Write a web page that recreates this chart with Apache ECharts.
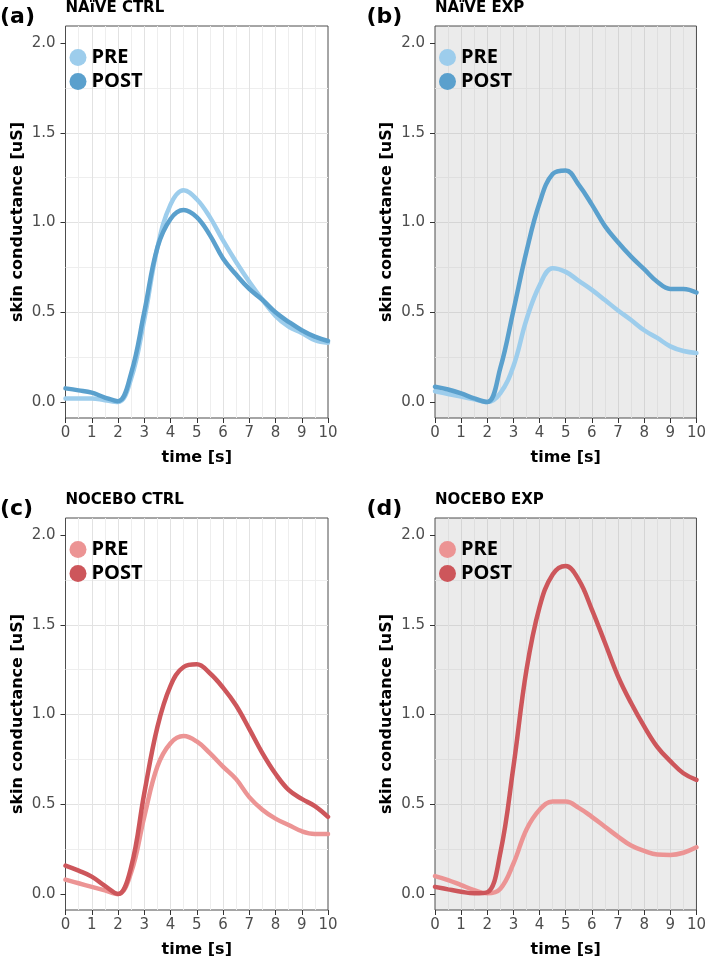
<!DOCTYPE html>
<html>
<head>
<meta charset="utf-8">
<title>skin conductance</title>
<script src="https://cdn.jsdelivr.net/npm/echarts@6/dist/echarts.min.js"></script>
<style>
    html, body { margin: 0; padding: 0; background: #ffffff; }
    #chart { width: 709px; height: 960px; }
</style>
</head>
<body>
<div id="chart"></div>
<script>
// time axis (s), sampled every 0.5 s
var time = [0, 0.5, 1, 1.5, 2, 2.5, 3, 3.5, 4, 4.5, 5, 5.5, 6, 6.5, 7, 7.5, 8, 8.5, 9, 9.5, 10];

// skin conductance [uS]
var naiveCtrlPre   = [0.02, 0.02, 0.02, 0.01, 0.00, 0.13, 0.46, 0.86, 1.10, 1.18, 1.13, 1.03, 0.90, 0.78, 0.67, 0.57, 0.48, 0.42, 0.385, 0.345, 0.33];
var naiveCtrlPost  = [0.076, 0.065, 0.052, 0.025, 0.005, 0.16, 0.50, 0.86, 1.02, 1.07, 1.03, 0.93, 0.80, 0.71, 0.63, 0.57, 0.50, 0.447, 0.40, 0.364, 0.34];
var naiveExpPre    = [0.06, 0.045, 0.03, 0.015, 0.00, 0.05, 0.20, 0.46, 0.65, 0.745, 0.725, 0.675, 0.625, 0.568, 0.51, 0.457, 0.40, 0.357, 0.31, 0.284, 0.273];
var naiveExpPost   = [0.085, 0.07, 0.048, 0.02, 0.00, 0.19, 0.51, 0.84, 1.11, 1.27, 1.29, 1.21, 1.10, 0.98, 0.89, 0.81, 0.74, 0.67, 0.63, 0.63, 0.61];
var noceboCtrlPre  = [0.08, 0.06, 0.04, 0.02, 0.00, 0.12, 0.43, 0.71, 0.84, 0.88, 0.85, 0.785, 0.71, 0.64, 0.54, 0.47, 0.42, 0.385, 0.35, 0.335, 0.335];
var noceboCtrlPost = [0.158, 0.13, 0.097, 0.045, 0.00, 0.15, 0.56, 0.93, 1.16, 1.265, 1.28, 1.23, 1.15, 1.05, 0.92, 0.785, 0.67, 0.58, 0.53, 0.49, 0.43];
var noceboExpPre   = [0.10, 0.078, 0.05, 0.022, 0.004, 0.03, 0.17, 0.36, 0.47, 0.515, 0.515, 0.48, 0.43, 0.375, 0.32, 0.27, 0.24, 0.22, 0.218, 0.23, 0.26];
var noceboExpPost  = [0.04, 0.026, 0.013, 0.004, 0.01, 0.23, 0.71, 1.25, 1.60, 1.78, 1.827, 1.75, 1.585, 1.40, 1.213, 1.064, 0.934, 0.82, 0.74, 0.673, 0.636];

var yTicks = [0, 0.5, 1, 1.5, 2];
var panelLabels = ['(a)', '(b)', '(c)', '(d)'];
var panelTitles = ['NAïVE CTRL', 'NAïVE EXP', 'NOCEBO CTRL', 'NOCEBO EXP'];
var groupNames = ['PRE', 'POST'];

var blue = ['#9dcdec', '#5aa0cd'];
var red = ['#ec9494', '#cd565b'];

var panels = [
    { key: 'a', left: 65.5, top: 26,  shaded: false, colors: blue, pre: naiveCtrlPre,  post: naiveCtrlPost },
    { key: 'b', left: 435,  top: 26,  shaded: true,  colors: blue, pre: naiveExpPre,   post: naiveExpPost },
    { key: 'c', left: 65.5, top: 518, shaded: false, colors: red,  pre: noceboCtrlPre, post: noceboCtrlPost },
    { key: 'd', left: 435,  top: 518, shaded: true,  colors: red,  pre: noceboExpPre,  post: noceboExpPost }
];

var FONT = 'DejaVu Sans';
var PLOT_W = 262.5, PLOT_H = 392;

function pairs(values) {
    return time.map(function (t, k) { return [t, values[k]]; });
}

function gridLines(shaded) {
    return shaded ? { major: '#d5d5d5', minor: '#dfdfdf' } : { major: '#e2e2e2', minor: '#eeeeee' };
}

var grids = [], xAxes = [], yAxes = [], series = [], legends = [], graphics = [];

panels.forEach(function (p, i) {
    var lines = gridLines(p.shaded);

    grids.push({
        left: p.left, top: p.top, width: PLOT_W, height: PLOT_H,
        show: true,
        backgroundColor: p.shaded ? '#ebebeb' : '#ffffff',
        borderColor: '#4d4d4d',
        borderWidth: 1
    });

    xAxes.push({
        type: 'value', gridIndex: i, position: 'bottom',
        min: 0, max: 10, interval: 1,
        name: 'time [s]', nameLocation: 'middle', nameGap: 32,
        nameTextStyle: { fontFamily: FONT, fontWeight: 'bold', fontSize: 16, color: '#000' },
        axisLine: { show: false, onZero: false },
        axisTick: { show: true, inside: false, length: 5, lineStyle: { color: '#333', width: 1 } },
        axisLabel: { fontFamily: FONT, fontSize: 15, color: '#4d4d4d', margin: 8 },
        splitLine: { show: true, showMinLine: false, showMaxLine: false, lineStyle: { color: lines.major, width: 1 } },
        minorTick: { show: false, splitNumber: 2 },
        minorSplitLine: { show: true, lineStyle: { color: lines.minor, width: 1 } }
    });

    yAxes.push({
        type: 'value', gridIndex: i, position: 'left',
        min: -0.089, max: 2.095, splitNumber: 5,
        name: 'skin conductance [uS]', nameLocation: 'middle', nameGap: 40,
        nameTextStyle: { fontFamily: FONT, fontWeight: 'bold', fontSize: 16, color: '#000' },
        axisLine: { show: false, onZero: false },
        // ticks and labels only at the round values, not at the padded ends
        axisTick: { show: true, inside: false, length: 5, customValues: yTicks, lineStyle: { color: '#333', width: 1 } },
        axisLabel: {
            fontFamily: FONT, fontSize: 15, color: '#4d4d4d', margin: 10,
            customValues: yTicks,
            formatter: function (v) { return v.toFixed(1); }
        },
        splitLine: { show: true, showMinLine: false, showMaxLine: false, lineStyle: { color: lines.major, width: 1 } },
        minorTick: { show: false, splitNumber: 2 },
        minorSplitLine: { show: true, lineStyle: { color: lines.minor, width: 1 } }
    });

    [p.pre, p.post].forEach(function (values, g) {
        series.push({
            type: 'line',
            name: p.key + '|' + groupNames[g],
            xAxisIndex: i, yAxisIndex: i,
            data: pairs(values),
            smooth: 0.4,
            symbol: 'none',
            lineStyle: { width: 4.5, color: p.colors[g], cap: 'round' },
            itemStyle: { color: p.colors[g] },
            z: 3 + g
        });
    });

    legends.push({
        orient: 'vertical',
        left: p.left + 4, top: p.top + 21.5,
        padding: 0, itemGap: 4,
        itemWidth: 17, itemHeight: 17,
        icon: 'circle',
        selectedMode: false,
        data: groupNames.map(function (n, g) {
            return { name: p.key + '|' + n, itemStyle: { color: p.colors[g] } };
        }),
        formatter: function (name) { return name.split('|')[1]; },
        textStyle: { fontFamily: 'Open Sans', fontWeight: 'bold', fontSize: 20, lineHeight: 17, color: '#000' }
    });

    graphics.push({
        type: 'text', x: p.left - 65.5 + (i % 2 ? -3 : 0), y: p.top - 9,
        style: { text: panelLabels[i], font: 'bold 22px "DejaVu Sans"', fill: '#000', verticalAlign: 'middle', align: 'left' }
    });
    graphics.push({
        type: 'text', x: p.left, y: p.top - 18,
        style: { text: panelTitles[i], font: 'bold 15px "DejaVu Sans"', fill: '#000', verticalAlign: 'middle', align: 'left' }
    });
});

var chart = echarts.init(document.getElementById('chart'), null, { renderer: 'canvas' });
chart.setOption({
    animation: false,
    backgroundColor: '#ffffff',
    grid: grids,
    xAxis: xAxes,
    yAxis: yAxes,
    legend: legends,
    graphic: graphics,
    series: series
});
</script>
</body>
</html>
